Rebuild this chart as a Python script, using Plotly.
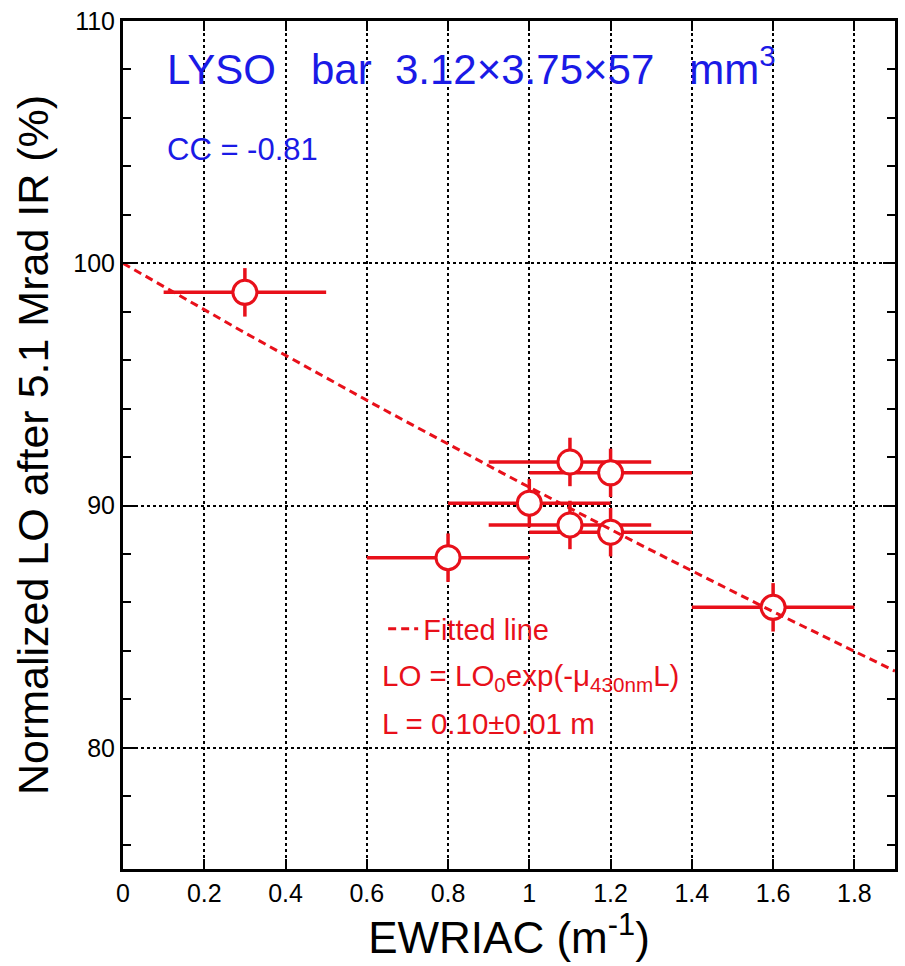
import numpy as np
import plotly.graph_objects as go

# ---- data ----
ewriac = [0.3, 0.8, 1.0, 1.1, 1.2, 1.1, 1.2, 1.6]
lo_norm = [98.8, 87.85, 90.1, 91.8, 91.35, 89.2, 88.9, 85.8]
ewriac_err = [0.2, 0.2, 0.2, 0.2, 0.2, 0.2, 0.2, 0.2]
lo_err = [1.0, 1.0, 1.0, 1.0, 1.0, 1.0, 1.0, 1.0]

# fitted curve parameters: LO = LO0*exp(-mu*L)
fit_lo0 = 100.0
fit_L = 0.097
fit_x = np.linspace(0, 1.9, 60)
fit_y = fit_lo0 * np.exp(-fit_x * fit_L)

x_ticks = [0, 0.2, 0.4, 0.6, 0.8, 1.0, 1.2, 1.4, 1.6, 1.8]
x_tick_text = ["0", "0.2", "0.4", "0.6", "0.8", "1", "1.2", "1.4", "1.6", "1.8"]
y_ticks = [80, 90, 100, 110]

RED = "#e8101a"
BLUE = "#1a1ae6"
FONT = "Liberation Sans, Arial, Helvetica, sans-serif"

fig = go.Figure()

fig.add_trace(go.Scatter(
    x=ewriac, y=lo_norm, mode="markers", showlegend=False,
    marker=dict(symbol="circle", size=24, color="white",
                line=dict(color=RED, width=3)),
    error_x=dict(type="data", array=ewriac_err, color=RED, thickness=3.5, width=0),
    error_y=dict(type="data", array=lo_err, color=RED, thickness=3.5, width=0),
))

fig.add_trace(go.Scatter(
    x=fit_x, y=fit_y, mode="lines", name="Fitted line", showlegend=True,
    line=dict(color=RED, width=3, dash="8px,5px"),
))

axis_common = dict(
    showline=True, linecolor="black", linewidth=3, mirror="allticks",
    ticks="inside", tickcolor="black", tickwidth=2,
    showgrid=True, gridcolor="black", gridwidth=2, griddash="dot",
    zeroline=False,
    tickfont=dict(family=FONT, size=25, color="black"),
)

fig.update_xaxes(
    **axis_common,
    range=[0, 1.9], tickvals=x_ticks, ticktext=x_tick_text, ticklen=10,
    title=dict(text="EWRIAC (m<sup>-1</sup>)", font=dict(family=FONT, size=44, color="black"),
               standoff=12),
)
fig.update_yaxes(
    **axis_common,
    range=[75, 110], tickvals=y_ticks, ticklen=12,
    minor=dict(dtick=2, ticks="inside", ticklen=8, tickwidth=2, tickcolor="black", showgrid=False),
    title=dict(text="Normalized LO after 5.1 Mrad IR (%)",
               font=dict(family=FONT, size=43, color="black"), standoff=12),
)

fig.add_annotation(
    xref="paper", yref="paper", x=0.055, y=0.947, xanchor="left", yanchor="middle",
    text="LYSO&nbsp;&nbsp;&nbsp;bar&nbsp;&nbsp;3.12×3.75×57&nbsp;&nbsp;&nbsp;mm<sup>3</sup>",
    showarrow=False, font=dict(family=FONT, size=42, color=BLUE),
)
fig.add_annotation(
    xref="paper", yref="paper", x=0.055, y=0.848, xanchor="left", yanchor="middle",
    text="CC = -0.81", showarrow=False, font=dict(family=FONT, size=31, color=BLUE),
)
fig.add_annotation(
    xref="paper", yref="paper", x=0.333, y=0.226, xanchor="left", yanchor="middle",
    text="LO = LO<sub>0</sub>exp(-μ<sub>430nm</sub>L)", showarrow=False,
    font=dict(family=FONT, size=29.5, color=RED),
)
fig.add_annotation(
    xref="paper", yref="paper", x=0.333, y=0.171, xanchor="left", yanchor="middle",
    text="L = 0.10±0.01 m", showarrow=False,
    font=dict(family=FONT, size=29.5, color=RED),
)

fig.update_layout(
    width=905, height=966,
    margin=dict(l=123, r=7, t=15, b=97),
    paper_bgcolor="white", plot_bgcolor="white",
    font=dict(family=FONT),
    legend=dict(x=0.337, y=0.283, xanchor="left", yanchor="middle",
                bgcolor="rgba(0,0,0,0)", borderwidth=0,
                font=dict(family=FONT, size=29, color=RED)),
)

fig.write_html("out.html")
